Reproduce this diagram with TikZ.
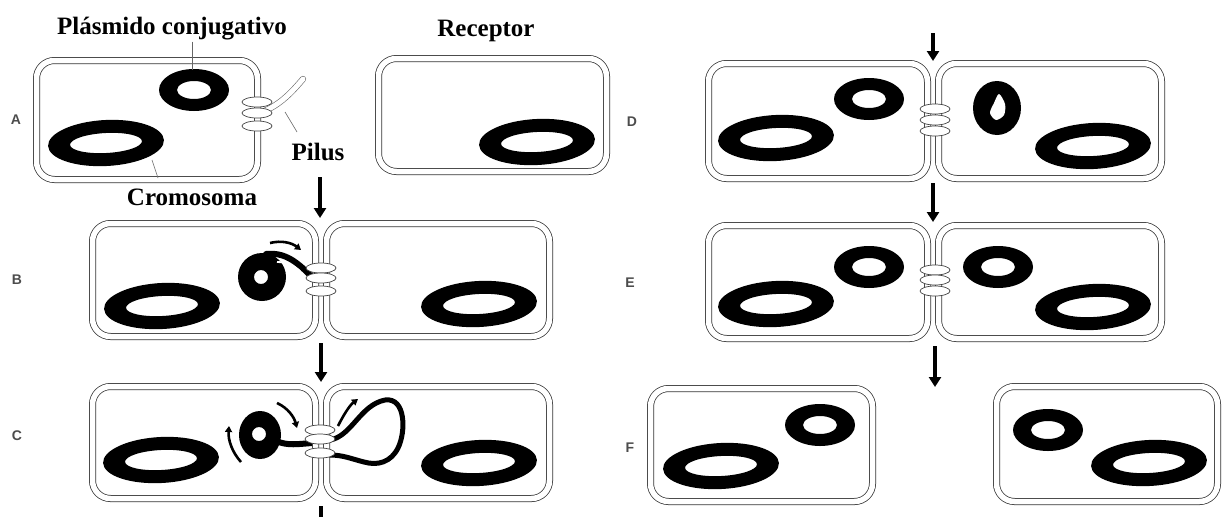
\documentclass[tikz,border=0pt]{standalone}
\usepackage{fontspec}
\setmainfont{Liberation Serif}
\setsansfont{Liberation Sans}
\usetikzlibrary{arrows.meta}

% black DNA rings: chromosome (large, slightly tilted) and plasmid (small)
\newcommand\chromo[1]{%
  \fill[even odd rule, rotate around={3:(#1)}]
    (#1) ellipse [x radius=58pt, y radius=23pt]
    (#1) ellipse [x radius=36pt, y radius=10pt];}
\newcommand\plasmid[1]{%
  \fill[even odd rule]
    (#1) ellipse [x radius=35pt, y radius=21pt]
    (#1) ellipse [x radius=17pt, y radius=9pt];}
% one turn of the mating bridge
\newcommand\coil[1]{\draw[ringst] (#1) ellipse [x radius=15pt, y radius=5pt];}

\begin{document}
\begin{tikzpicture}[x=1pt,y=-1pt,
  cellbox/.style={draw=black!80, double=white, double distance=5.5pt,
    line width=0.75pt, rounded corners=18pt, inner sep=0pt, fill=none},
  ringst/.style={draw=black!75, fill=white, line width=0.7pt},
  flow/.style={line width=3.6pt, -{Triangle[width=12pt,length=10pt]}},
  twist/.style={line width=2.6pt, -{Triangle[width=7pt,length=6pt]}},
  lead/.style={draw=black!60, line width=0.6pt},
  pilus/.style={draw=black!60, double=white, double distance=5pt,
    line width=0.6pt, line cap=round},
  lbl/.style={font=\bfseries\fontsize{25}{30}\selectfont, inner sep=2pt},
  tag/.style={font=\sffamily\bfseries\fontsize{14}{16}\selectfont, text=black!70, inner sep=0pt}]

\useasboundingbox (0,0) rectangle (1223,517);

% ---------- cell envelopes ----------
\node[cellbox, minimum width=221pt, minimum height=119pt] (cA) at (147,120) {};
\node[cellbox, minimum width=228pt, minimum height=113pt] (cR) at (492.5,115) {};
\node[cellbox, minimum width=223pt, minimum height=113pt] (cBl) at (204,280) {};
\node[cellbox, minimum width=223pt, minimum height=113pt] (cBr) at (438,280) {};
\node[cellbox, minimum width=223pt, minimum height=112pt] (cCl) at (204,442.5) {};
\node[cellbox, minimum width=223pt, minimum height=112pt] (cCr) at (438,442.5) {};
\node[cellbox, minimum width=219pt, minimum height=115pt] (cDl) at (818,121) {};
\node[cellbox, minimum width=223pt, minimum height=115pt] (cDr) at (1050,121) {};
\node[cellbox, minimum width=219pt, minimum height=113pt] (cEl) at (818,282) {};
\node[cellbox, minimum width=223pt, minimum height=113pt] (cEr) at (1050,282) {};
\node[cellbox, minimum width=222pt, minimum height=113pt] (cFl) at (761.5,445) {};
\node[cellbox, minimum width=221pt, minimum height=115pt] (cFr) at (1107,444) {};

% ---------- chromosomes ----------
\chromo{106,143}   \chromo{537,142}
\chromo{162,306}   \chromo{479,304}
\chromo{161,460}   \chromo{479,463}
\chromo{776,138}   \chromo{1093,146}
\chromo{776,304}   \chromo{1093,307}
\chromo{721,466}   \chromo{1149,463}

% ---------- plasmids ----------
\plasmid{194,90}
\plasmid{869,99}
\plasmid{869,267}  \plasmid{998,267}
\plasmid{820,425}  \plasmid{1048,430}

% plasmid arriving in the recipient (D)
\fill (997,108) ellipse [x radius=24pt, y radius=27pt];
\fill[white] plot[smooth cycle] coordinates
  {(999,94) (1005,104) (1004,115) (996,120) (990,113) (994,103)};

% ---------- pilus ----------
\draw[pilus] (262,112) .. controls (280,105) and (292,92) .. (303,79);

% ---------- rolling-circle transfer (B) ----------
\fill[even odd rule] (262,277) circle [radius=24pt] (261,277) circle [radius=7pt];
\draw[line width=6pt, line cap=round] (266,254) .. controls (285,252) and (297,262) .. (311,276);
\draw[white, line width=1.8pt] (277,262) .. controls (287,262) and (294,266) .. (300,271);
\draw[twist] (270,243) .. controls (282,240) and (292,243) .. (301,250);

% ---------- strand crossing the bridge (C) ----------
\fill[even odd rule] (260,435) ellipse [x radius=21pt, y radius=24pt] (259,434) circle [radius=7pt];
\draw[line width=6pt] (276,441) .. controls (288,446) and (298,444) .. (312,443);
\draw[line width=5pt, line cap=round] (330,440) .. controls (352,436) and (360,405) .. (385,400)
  .. controls (406,397) and (406,432) .. (398,448)
  .. controls (391,462) and (378,466) .. (364,462)
  .. controls (352,459) and (343,455) .. (330,455);
\draw[twist] (277,403) .. controls (288,408) and (294,417) .. (297,428);
\draw[twist] (241,462) .. controls (232,452) and (228,440) .. (229,426);
\draw[twist] (338,426) .. controls (344,414) and (350,405) .. (358,399);

% ---------- mating bridges ----------
\coil{257,102} \coil{257,113} \coil{257,126}
\coil{321,268} \coil{321,278} \coil{321,291}
\coil{320,430} \coil{320,439} \coil{320,453}
\coil{935,109} \coil{935,120} \coil{935,131}
\coil{935,270} \coil{935,280} \coil{935,291}

% ---------- step arrows ----------
\coordinate (ab1) at (320,177);  \coordinate (ab2) at (320,218);
\coordinate (bc1) at (321,343);  \coordinate (bc2) at (321,382);
\coordinate (cx1) at (321,506);  \coordinate (cx2) at (321,517);
\coordinate (dd1) at (933,33);   \coordinate (dd2) at (933,61);
\coordinate (de1) at (933,183);  \coordinate (de2) at (933,222);
\coordinate (ef1) at (935,346);  \coordinate (ef2) at (935,387);
\draw[flow] (ab1) -- (ab2);
\draw[flow] (bc1) -- (bc2);
\draw[line width=3.6pt] (cx1) -- (cx2);
\draw[flow] (dd1) -- (dd2);
\draw[flow] (de1) -- (de2);
\draw[flow] (ef1) -- (ef2);

% ---------- labels ----------
\node[lbl, anchor=base] (tplas) at (172,34) {Plásmido conjugativo};
\node[lbl, anchor=base] (trec) at (486,36) {Receptor};
\node[lbl, anchor=base] (tcro) at (192,205) {Cromosoma};
\node[lbl, anchor=base] (tpil) at (318,160) {Pilus};

\coordinate (plTop) at (192,70);
\coordinate (crLow) at (152,160);  \coordinate (crEnd) at (158,178);
\coordinate (piMid) at (285,112);  \coordinate (piEnd) at (297,132);
\draw[lead] (tplas.south -| plTop) -- (plTop);
\draw[lead] (crLow) -- (crEnd);
\draw[lead] (piMid) -- (piEnd);

\node[tag] (lA) at (16,120) {A};
\node[tag] (lB) at (17,280) {B};
\node[tag] (lC) at (17,436) {C};
\node[tag] (lD) at (632,122) {D};
\node[tag] (lE) at (630,283) {E};
\node[tag] (lF) at (630,448) {F};
\end{tikzpicture}
\end{document}
